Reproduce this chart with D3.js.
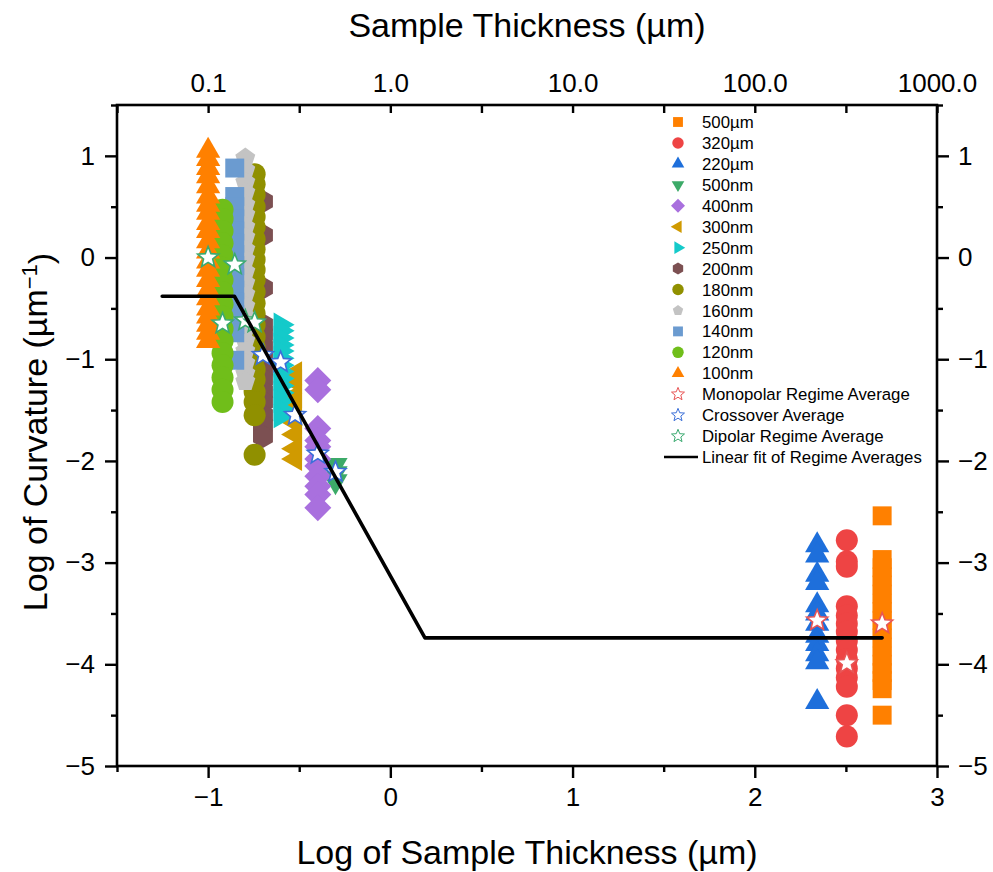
<!DOCTYPE html>
<html>
<head>
<meta charset="utf-8">
<script src="https://cdn.jsdelivr.net/npm/d3@7"></script>
<style>
  body { margin: 0; background: #fff; }
  svg { font-family: "Liberation Sans", Arial, sans-serif; }
</style>
</head>
<body>
<div id="chart"></div>
<script>
// series labels, thickness in µm, colours and marker shapes (legend order)
const seriesLabels = ["500µm", "320µm", "220µm", "500nm", "400nm", "300nm", "250nm", "200nm", "180nm", "160nm", "140nm", "120nm", "100nm"];
const thicknessMicron = [500, 320, 220, 0.5, 0.4, 0.3, 0.25, 0.2, 0.18, 0.16, 0.14, 0.12, 0.1];
const seriesColors = ["#FF8000", "#EE4444", "#1E6FDB", "#3CAA68", "#A970DE", "#D09A00", "#14CACA", "#7C5052", "#909000", "#C3C3C3", "#6B9BD0", "#70BE1A", "#FF8000"];
const seriesShapes = ["square", "circle", "triangle", "triangleDown", "diamond", "triangleLeft", "triangleRight", "hexagon", "circle", "pentagon", "square", "circle", "triangle"];

// log of curvature values
const curv500um = [-2.54, -2.97, -3.05, -3.14, -3.22, -3.31, -3.4, -3.48, -3.57, -3.66, -3.74, -3.83, -3.92, -4.0, -4.08, -4.16, -4.24, -4.5];
const curv320um = [-2.78, -2.99, -3.04, -3.43, -3.52, -3.6, -3.68, -3.77, -3.86, -3.95, -4.04, -4.13, -4.22, -4.5, -4.71];
const curv220um = [-2.83, -2.93, -3.12, -3.2, -3.42, -3.5, -3.6, -3.72, -3.8, -3.9, -3.98, -4.37];
const curv500nm = [-2.04, -2.12, -2.2];
const curv400nm = [-1.21, -1.3, -1.68, -1.8, -1.86, -1.98, -2.05, -2.15, -2.25, -2.33, -2.46];
const curv300nm = [-1.14, -1.22, -1.36, -1.45, -1.62, -1.74, -1.88, -1.98];
const curv250nm = [-0.66, -0.72, -0.79, -0.86, -0.92, -0.99, -1.06, -1.12, -1.19, -1.26, -1.33, -1.41, -1.49, -1.56];
const curv200nm = [0.55, 0.22, -0.3, -0.66, -0.76, -0.88, -0.98, -1.1, -1.2, -1.32, -1.42, -1.55, -1.65, -1.76];
const curv180nm = [0.82, 0.72, 0.62, 0.5, 0.4, 0.3, 0.18, 0.08, -0.02, -0.12, -0.22, -0.34, -0.45, -0.55, -0.66, -0.78, -0.88, -0.98, -1.1, -1.2, -1.32, -1.42, -1.55, -1.94];
const curv160nm = [0.98, 0.86, 0.74, 0.64, 0.52, 0.42, 0.3, 0.2, 0.08, -0.02, -0.14, -0.25, -0.36, -0.48, -0.58, -0.7, -0.82, -0.92, -1.04, -1.14, -1.22];
const curv140nm = [0.88, 0.6, 0.5, 0.38, 0.26, 0.14, 0.03, -0.08, -0.2, -0.32, -0.44, -0.56, -0.66, -0.74, -1.01];
const curv120nm = [0.47, 0.38, 0.26, 0.14, 0.02, -0.1, -0.22, -0.34, -0.46, -0.58, -0.7, -0.82, -0.94, -1.06, -1.18, -1.3, -1.42];
const curv100nm = [1.05, 0.97, 0.88, 0.8, 0.7, 0.6, 0.52, 0.44, 0.34, 0.26, 0.16, 0.06, -0.04, -0.12, -0.22, -0.32, -0.4, -0.5, -0.58, -0.66, -0.74, -0.82];
const curvValues = [curv500um, curv320um, curv220um, curv500nm, curv400nm, curv300nm, curv250nm, curv200nm, curv180nm, curv160nm, curv140nm, curv120nm, curv100nm];

// regime averages: [thickness µm, log curvature]
const monopolarAvg = [[220, -3.57], [320, -3.99], [500, -3.6]];
const crossoverAvg = [[0.2, -0.96], [0.25, -1.03], [0.3, -1.55], [0.4, -1.93], [0.5, -2.11]];
const dipolarAvg = [[0.1, 0.0], [0.14, -0.07], [0.12, -0.65], [0.16, -0.62], [0.18, -0.64]];
const averageLabels = ["Monopolar Regime Average", "Crossover Average", "Dipolar Regime Average"];
const averageColors = ["#E85555", "#3B6FD8", "#3AAA70"];

// linear fit of regime averages: [log thickness, log curvature]
const fitLine = [[-1.252, -0.38], [-0.856, -0.38], [0.19, -3.74], [2.699, -3.74]];
const fitLabel = "Linear fit of Regime Averages";

// ticks
const xTicks = [-1, 0, 1, 2, 3];
const xMinorTicks = [-1.5, -0.5, 0.5, 1.5, 2.5];
const topTickLabels = ["0.1", "1.0", "10.0", "100.0", "1000.0"];
const yTicks = [1, 0, -1, -2, -3, -4, -5];
const yMinorTicks = [1.5, 0.5, -0.5, -1.5, -2.5, -3.5, -4.5];

const margin = { top: 105, right: 56, bottom: 106, left: 117 };
const width = 993 - margin.left - margin.right;
const height = 872 - margin.top - margin.bottom;

const svg = d3.select("#chart")
    .append("svg")
    .attr("width", 993)
    .attr("height", 872);

const g = svg.append("g")
    .attr("transform", `translate(${margin.left},${margin.top})`);

const x = d3.scaleLinear().domain([-1.5, 3]).range([0, width]);
const y = d3.scaleLinear().domain([-5, 1.5]).range([height, 0]);
const intFormat = d3.format("d");

// marker shapes
function polygon(n, r, startDeg) {
    const pts = d3.range(n).map(i => {
        const a = (startDeg + i * 360 / n) * Math.PI / 180;
        return [r * Math.cos(a), r * Math.sin(a)];
    });
    return d3.line()(pts) + "Z";
}
function shapePath(shape, s) {
    switch (shape) {
        case "square": return polygon(4, 13.4 * s, 45);
        case "diamond": return polygon(4, 13.5 * s, -90);
        case "circle": return d3.symbol().type(d3.symbolCircle).size(Math.PI * Math.pow(11 * s, 2))();
        case "triangle": return polygon(3, 14 * s, -90);
        case "triangleDown": return polygon(3, 14 * s, 90);
        case "triangleLeft": return polygon(3, 14 * s, 180);
        case "triangleRight": return polygon(3, 14 * s, 0);
        case "pentagon": return polygon(5, 10.5 * s, -90);
        case "hexagon": return polygon(6, 11.5 * s, -90);
        case "star": {
            const pts = d3.range(10).map(i => {
                const r = (i % 2 === 0 ? 11 : 4.8) * s;
                const a = (-90 + i * 36) * Math.PI / 180;
                return [r * Math.cos(a), r * Math.sin(a)];
            });
            return d3.line()(pts) + "Z";
        }
    }
}

// Add data markers, first series at the bottom
seriesLabels.forEach((label, i) => {
    const lx = Math.log10(thicknessMicron[i]);
    g.append("g")
        .selectAll("path")
        .data(curvValues[i])
        .join("path")
        .attr("d", shapePath(seriesShapes[i], 1))
        .attr("transform", d => `translate(${x(lx)},${y(d)})`)
        .attr("fill", seriesColors[i]);
});

// Add regime averages
[monopolarAvg, crossoverAvg, dipolarAvg].forEach((pts, i) => {
    g.append("g")
        .selectAll("path")
        .data(pts)
        .join("path")
        .attr("d", shapePath("star", 1))
        .attr("transform", d => `translate(${x(Math.log10(d[0]))},${y(d[1])})`)
        .attr("fill", "#fff")
        .attr("stroke", averageColors[i])
        .attr("stroke-width", 1.6)
        .attr("stroke-linejoin", "miter");
});

// Add fit line
g.append("path")
    .datum(fitLine)
    .attr("fill", "none")
    .attr("stroke", "#000")
    .attr("stroke-width", 3.6)
    .attr("stroke-linecap", "round")
    .attr("stroke-linejoin", "round")
    .attr("d", d3.line().x(d => x(d[0])).y(d => y(d[1])));

// Add axes
function styleAxis(sel, fontSize) {
    sel.select(".domain").remove();
    sel.selectAll(".tick line").attr("stroke", "#000").attr("stroke-width", 2.4);
    sel.selectAll(".tick text").attr("fill", "#000").style("font-size", fontSize + "px")
        .style("font-family", '"Liberation Sans", Arial, sans-serif');
}

g.append("g")
    .attr("transform", `translate(0,${height})`)
    .call(d3.axisBottom(x).tickValues(xTicks).tickSize(12).tickPadding(10).tickSizeOuter(0).tickFormat(intFormat))
    .call(s => styleAxis(s, 26));
g.append("g")
    .attr("transform", `translate(0,${height})`)
    .call(d3.axisBottom(x).tickValues(xMinorTicks).tickSize(6).tickFormat("").tickSizeOuter(0))
    .call(s => styleAxis(s, 26));

g.append("g")
    .call(d3.axisTop(x).tickValues(xTicks).tickSize(-8).tickPadding(13).tickSizeOuter(0)
        .tickFormat((d, i) => topTickLabels[i]))
    .call(s => styleAxis(s, 26));
g.append("g")
    .call(d3.axisTop(x).tickValues(xMinorTicks).tickSize(-8).tickFormat("").tickSizeOuter(0))
    .call(s => styleAxis(s, 26));

g.append("g")
    .call(d3.axisLeft(y).tickValues(yTicks).tickSize(12).tickPadding(10).tickSizeOuter(0).tickFormat(intFormat))
    .call(s => styleAxis(s, 26));
g.append("g")
    .call(d3.axisLeft(y).tickValues(yMinorTicks).tickSize(6).tickFormat("").tickSizeOuter(0))
    .call(s => styleAxis(s, 26));

g.append("g")
    .attr("transform", `translate(${width},0)`)
    .call(d3.axisRight(y).tickValues(yTicks).tickSize(12).tickPadding(9).tickSizeOuter(0).tickFormat(intFormat))
    .call(s => styleAxis(s, 26));
g.append("g")
    .attr("transform", `translate(${width},0)`)
    .call(d3.axisRight(y).tickValues(yMinorTicks).tickSize(6).tickFormat("").tickSizeOuter(0))
    .call(s => styleAxis(s, 26));

// frame
g.append("rect")
    .attr("width", width)
    .attr("height", height)
    .attr("fill", "none")
    .attr("stroke", "#000")
    .attr("stroke-width", 2.6);

// Add labels and titles
svg.append("text")
    .attr("x", margin.left + width / 2)
    .attr("y", 37)
    .attr("text-anchor", "middle")
    .style("font-size", "34px")
    .text("Sample Thickness (µm)");

svg.append("text")
    .attr("x", margin.left + width / 2)
    .attr("y", 864)
    .attr("text-anchor", "middle")
    .style("font-size", "34px")
    .text("Log of Sample Thickness (µm)");

const yTitle = svg.append("text")
    .attr("transform", `translate(47,432) rotate(-90)`)
    .attr("text-anchor", "middle")
    .style("font-size", "34px");
yTitle.append("tspan").text("Log of Curvature (µm");
yTitle.append("tspan").attr("dy", "-0.45em").style("font-size", "22px").text("−1");
yTitle.append("tspan").attr("dy", "0.45em").text(")");

// Legend
const legendRows = seriesLabels.map((label, i) => ({ label, shape: seriesShapes[i], fill: seriesColors[i], stroke: "none" }))
    .concat(averageLabels.map((label, i) => ({ label, shape: "star", fill: "#fff", stroke: averageColors[i] })))
    .concat([{ label: fitLabel, shape: "line" }]);

const legend = svg.append("g").attr("transform", "translate(678,122)");
legendRows.forEach((row, i) => {
    const r = legend.append("g").attr("transform", `translate(0,${i * 20.94})`);
    if (row.shape === "line") {
        r.append("line").attr("x1", -14).attr("x2", 20).attr("stroke", "#000").attr("stroke-width", 2.6);
    } else {
        r.append("path")
            .attr("d", shapePath(row.shape, row.shape === "star" ? 0.62 : 0.52))
            .attr("fill", row.fill)
            .attr("stroke", row.stroke)
            .attr("stroke-width", 1);
    }
    r.append("text")
        .attr("x", 24)
        .attr("dy", "0.36em")
        .style("font-size", "16.8px")
        .text(row.label);
});
</script>
</body>
</html>
